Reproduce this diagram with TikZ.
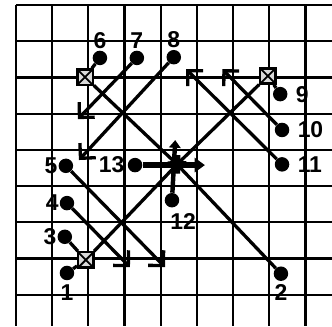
\documentclass[tikz,border=0pt]{standalone}
\usepackage{fontspec}
\setmainfont{Liberation Sans}
\usetikzlibrary{arrows.meta,positioning}

\begin{document}
\begin{tikzpicture}[
    y=-1cm,
    gridline/.style={line width=1.7pt},
    dot/.style={circle, fill, inner sep=0pt, minimum size=0.4cm},
    num/.style={font=\fontsize{18}{18}\selectfont\bfseries, inner sep=0pt},
    cone/.style={draw, line width=1.8pt, fill=black!15, minimum size=0.42cm, inner sep=0pt,
        path picture={\draw[line width=1.4pt] (path picture bounding box.north west) -- (path picture bounding box.south east)
            (path picture bounding box.north east) -- (path picture bounding box.south west);}},
    run/.style={line width=2.6pt, -{Straight Barb[angle=90:12pt]}},
    pass/.style={line width=2.6pt},
    tocenter/.style={line width=2.6pt, -{Straight Barb[angle=90:6pt]}},
    node distance=0.1cm
]
\useasboundingbox (-0.44,-0.14) rectangle (8.73,8.87);

% grid
\foreach \i in {0,...,8} {
    \draw[gridline] (\i,0) -- (\i,8.87);
    \draw[gridline] (0,\i) -- (8.73,\i);
}

% cones
\node[cone] (sqA) at (1.91,1.99) {};
\node[cone] (sqB) at (6.96,1.96) {};
\node[cone] (sqC) at (1.93,7.04) {};
\coordinate (ctr) at (4.45,4.4);

% players
\node[dot] (p1) at (1.41,7.40) {};
\node[dot] (p2) at (7.32,7.42) {};
\node[dot] (p3) at (1.35,6.40) {};
\node[dot] (p4) at (1.41,5.47) {};
\node[dot] (p5) at (1.38,4.44) {};
\node[dot] (p6) at (2.32,1.46) {};
\node[dot] (p7) at (3.34,1.46) {};
\node[dot] (p8) at (4.36,1.44) {};
\node[dot] (p9) at (7.30,2.46) {};
\node[dot] (p10) at (7.35,3.45) {};
\node[dot] (p11) at (7.35,4.40) {};
\node[dot] (p12) at (4.31,5.39) {};
\node[dot] (p13) at (3.29,4.42) {};

\node[num, below=0.12cm of p1] (l1) {1};
\node[num, below=0.08cm of p2] (l2) {2};
\node[num, left=0.02cm of p3] (l3) {3};
\node[num, left=0.02cm of p4] (l4) {4};
\node[num, left=0.02cm of p5] (l5) {5};
\node[num, above=0.05cm of p6] (l6) {6};
\node[num, above=0.05cm of p7] (l7) {7};
\node[num, above=0.05cm of p8] (l8) {8};
\node[num, right=0.22cm of p9] (l9) {9};
\node[num, right=0.22cm of p10] (l10) {10};
\node[num, right=0.22cm of p11] (l11) {11};
\node[num, anchor=north west] (l12) at ([xshift=-0.05cm, yshift=-0.15cm]p12.south) {12};
\node[num, left=0.08cm of p13] (l13) {13};

% runs
\coordinate (tA) at (1.71,3.15);
\coordinate (tB) at (1.74,4.28);
\coordinate (tC) at (4.70,1.77);
\coordinate (tD) at (5.70,1.77);
\coordinate (tE) at (3.15,7.24);
\coordinate (tF) at (4.12,7.24);
\draw[run] (p7) -- (tA);
\draw[run] (p8) -- (tB);
\draw[run] (p11) -- (tC);
\draw[run] (p10) -- (tD);
\draw[run] (p4) -- (tE);
\draw[run] (p5) -- (tF);

% to the cones
\draw[pass] (p6) -- (sqA);
\draw[pass] (p9) -- (sqB);
\draw[pass] (p3) -- (sqC);
\draw[pass] (p1) -- (sqC);

% to the middle
\draw[tocenter] (sqA) -- (ctr);
\draw[tocenter] (sqB) -- (ctr);
\draw[tocenter] (sqC) -- (ctr);
\draw[tocenter] (p2) -- (ctr);

\coordinate (e13) at (5.22,4.42);
\coordinate (e12) at (4.40,3.73);
\draw[line width=4.5pt, -{Triangle[length=8pt, width=11pt]}] (p13) -- (e13);
\draw[line width=3.5pt, -{Triangle[length=6pt, width=9pt]}] (p12) -- (e12);
\end{tikzpicture}
\end{document}
